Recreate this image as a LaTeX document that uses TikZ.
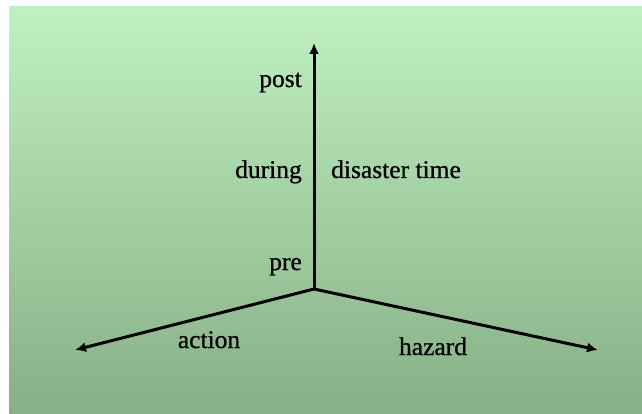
\documentclass[tikz,border=0pt]{standalone}
\usepackage{fontspec}
\setmainfont{Liberation Serif}[FakeBold=0.8]
\usetikzlibrary{arrows.meta}
\definecolor{bgtop}{RGB}{192,240,192}
\definecolor{bgbot}{RGB}{134,176,134}
\tikzset{
  axis/.style={line width=3pt, -{Latex[length=11pt,width=10pt]}},
  lbl/.style={inner sep=0pt, font=\fontsize{25.5}{30}\selectfont}
}
\begin{document}
\begin{tikzpicture}[x=1pt,y=-1pt]
\useasboundingbox (0,0) rectangle (642,414);
\fill[white] (0,0) rectangle (642,414);
\shade[top color=bgtop, bottom color=bgbot] (9,7) rectangle (642,413);
\coordinate (O) at (314,289);
\coordinate (T) at (314,43);
\coordinate (L) at (75,350);
\coordinate (R) at (598,350);
\draw[axis] (O) -- (T);
\draw[axis] (O) -- (L);
\draw[axis] (O) -- (R);
\node[lbl, anchor=base east] (post) at (302,87) {post};
\node[lbl, anchor=base east] (during) at (302,178) {during};
\node[lbl, anchor=base west] (dis) at (331,178) {disaster time};
\node[lbl, anchor=base east] (pre) at (302,270) {pre};
\node[lbl, anchor=base] (action) at (209,348) {action};
\node[lbl, anchor=base] (hazard) at (433,355) {hazard};
\end{tikzpicture}
\end{document}
